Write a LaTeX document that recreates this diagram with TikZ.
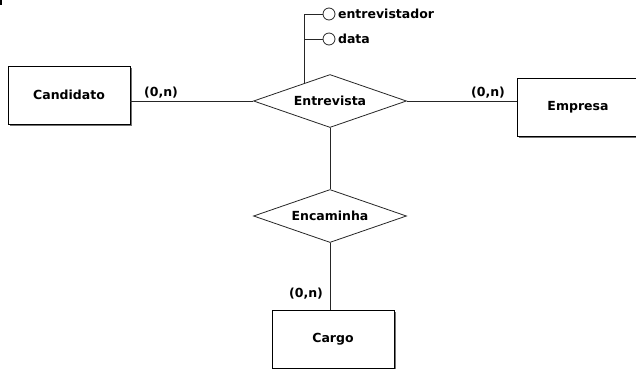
\documentclass[tikz,border=0pt]{standalone}
\usepackage{fontspec}
\setmainfont{DejaVu Sans}
\usetikzlibrary{shapes.geometric,shadows,calc}
\begin{document}
\begin{tikzpicture}[x=1pt,y=-1pt,
  font=\fontsize{12.5}{14}\selectfont\bfseries,
  entity/.style={draw=black,line width=0.9pt,fill=white,minimum width=122pt,minimum height=58pt,inner sep=0pt,
    drop shadow={shadow xshift=1.6pt,shadow yshift=-1.6pt,fill=black!55,opacity=1}},
  rel/.style={draw=black!85,line width=0.8pt,fill=white,diamond,aspect=2.9,minimum width=153pt,minimum height=53pt,inner sep=0pt},
  attr/.style={draw=black!85,line width=0.8pt,circle,minimum size=12pt,inner sep=0pt},
  conn/.style={draw=black!85,line width=0.8pt},
  card/.style={inner sep=0pt,anchor=base}]
\useasboundingbox (0,0) rectangle (636,368);
\fill[black] (0,0) rectangle (1.5,4.5);
\node[entity] (cand) at (69,95) {Candidato};
\node[entity] (emp) at (578,107) {Empresa};
\node[entity] (cargo) at (333,339) {Cargo};
\node[rel] (ent) at (330,101) {Entrevista};
\node[rel] (enc) at (330,216) {Encaminha};
\node[attr] (a1) at (329,14) {};
\node[attr] (a2) at (329,39) {};
\node[anchor=west,inner sep=0pt] (t1) at ([xshift=2.5pt]a1.east) {entrevistador};
\node[anchor=west,inner sep=0pt] (t2) at ([xshift=2.5pt]a2.east) {data};
\coordinate (ap) at ($(ent.west)!0.662!(ent.north)$);
\draw[conn] (ap) |- (a1.west);
\draw[conn] (a2.west) -- (a2.west -| ap);
\draw[conn] (ent.west) -- (ent.west -| cand.east);
\draw[conn] (ent.east) -- (ent.east -| emp.west);
\draw[conn] (ent.south) -- (enc.north);
\draw[conn] (enc.south) -- (enc.south |- cargo.north);
\node[card] (c1) at (161,96) {(0,n)};
\node[card] (c2) at (488,96) {(0,n)};
\node[card] (c3) at (306,297) {(0,n)};
\end{tikzpicture}
\end{document}
